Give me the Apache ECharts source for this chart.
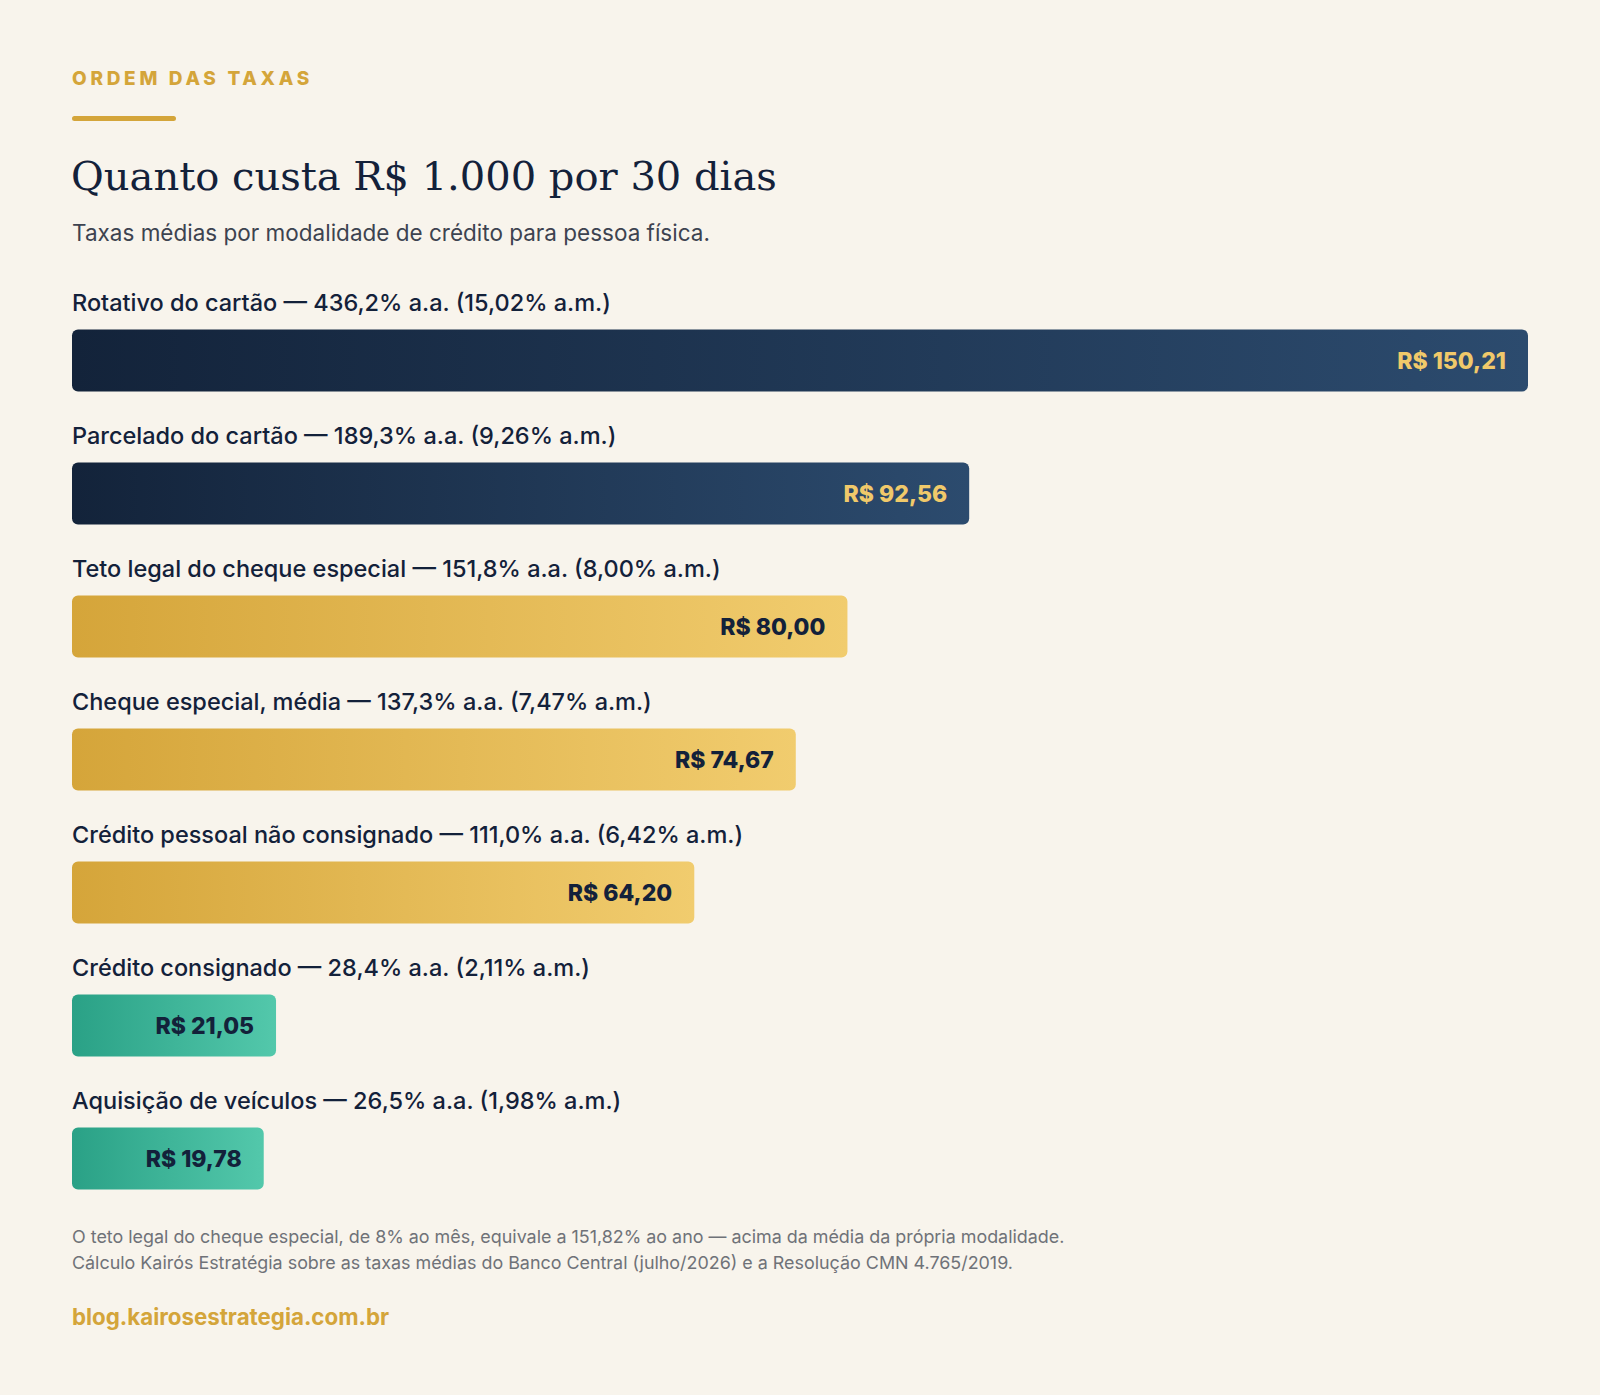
<!DOCTYPE html>
<html lang="pt-BR">

<head>
    <meta charset="UTF-8">
    <meta name="viewport" content="width=device-width, initial-scale=1.0">
    <title>Quanto custa R$ 1.000 por 30 dias</title>
    <script src="https://cdn.jsdelivr.net/npm/echarts@6/dist/echarts.min.js"></script>
</head>

<style>
    html,
    body {
        margin: 0;
        padding: 0;
        background: #f8f4ec;
    }

    #main {
        width: 1600px;
        height: 1395px;
    }
</style>

<body>
    <div id="main"></div>
</body>

</html>

<script>
    // modalidades (ordem de cima para baixo)
    let categories = [
        'Rotativo do cartão — 436,2% a.a. (15,02% a.m.)',
        'Parcelado do cartão — 189,3% a.a. (9,26% a.m.)',
        'Teto legal do cheque especial — 151,8% a.a. (8,00% a.m.)',
        'Cheque especial, média — 137,3% a.a. (7,47% a.m.)',
        'Crédito pessoal não consignado — 111,0% a.a. (6,42% a.m.)',
        'Crédito consignado — 28,4% a.a. (2,11% a.m.)',
        'Aquisição de veículos — 26,5% a.a. (1,98% a.m.)'
    ]
    // custo em R$ de 1.000 por 30 dias
    let values = [150.21, 92.56, 80.00, 74.67, 64.20, 21.05, 19.78]
    // faixa de cor de cada barra
    let groups = ['alto', 'alto', 'medio', 'medio', 'medio', 'baixo', 'baixo']

    let palette = {
        alto: { from: '#13233a', to: '#2c4b6e', text: '#f0c96a' },
        medio: { from: '#d5a53a', to: '#f1cc6e', text: '#13213a' },
        baixo: { from: '#2aa186', to: '#53c8ab', text: '#13213a' }
    }

    let fontSans = 'Inter, "Noto Sans", sans-serif'

    function fmt(v) {
        return 'R$ ' + v.toFixed(2).replace('.', ',')
    }

    var myChart = echarts.init(document.getElementById('main'), null, { renderer: 'svg' });

    let seriesData = values.map(function (v, i) {
        let p = palette[groups[i]]
        return {
            value: v,
            itemStyle: {
                color: new echarts.graphic.LinearGradient(0, 0, 1, 0, [
                    { offset: 0, color: p.from },
                    { offset: 1, color: p.to }
                ])
            },
            label: { color: p.text }
        }
    })

    option = {
        backgroundColor: '#f8f4ec',
        animation: false,
        title: [{
            text: 'ORDEM DAS TAXAS',
            left: 72,
            top: 69,
            padding: 0,
            textStyle: { color: '#d4a53a', fontSize: 19, fontWeight: 800, fontFamily: fontSans }
        }, {
            text: 'Quanto custa R$ 1.000 por 30 dias',
            left: 71,
            top: 156,
            padding: 0,
            textStyle: { color: '#13213a', fontSize: 40, fontWeight: 'normal', fontFamily: '"DejaVu Serif", serif' }
        }, {
            text: 'Taxas médias por modalidade de crédito para pessoa física.',
            left: 72,
            top: 221,
            padding: 0,
            textStyle: { color: '#3d4350', fontSize: 22.5, fontWeight: 'normal', fontFamily: fontSans }
        }, {
            text: 'O teto legal do cheque especial, de 8% ao mês, equivale a 151,82% ao ano — acima da média da própria modalidade.\nCálculo Kairós Estratégia sobre as taxas médias do Banco Central (julho/2026) e a Resolução CMN 4.765/2019.',
            left: 72,
            top: 1224,
            padding: 0,
            textStyle: { color: '#6f7278', fontSize: 17.9, lineHeight: 25.5, fontWeight: 'normal', fontFamily: fontSans }
        }, {
            text: 'blog.kairosestrategia.com.br',
            left: 72,
            top: 1305,
            padding: 0,
            textStyle: { color: '#d4a53a', fontSize: 22.3, fontWeight: 700, fontFamily: fontSans }
        }],
        graphic: [{
            type: 'rect',
            left: 72,
            top: 116,
            shape: { width: 104, height: 5, r: 2.5 },
            style: { fill: '#d4a53a' }
        }],
        grid: {
            left: 72,
            right: 72,
            top: 294,
            height: 931,
            containLabel: false
        },
        xAxis: {
            type: 'value',
            min: 0,
            max: 150.21,
            show: false
        },
        yAxis: {
            type: 'category',
            inverse: true,
            data: categories,
            axisLine: { show: false },
            axisTick: { show: false },
            splitLine: { show: false },
            axisLabel: {
                inside: true,
                interval: 0,
                margin: 0,
                // nome da modalidade acima da barra
                formatter: function (v) { return '{t|' + v + '}\n{gap|}' },
                rich: {
                    t: {
                        color: '#13213a',
                        fontSize: 23.5,
                        lineHeight: 24,
                        fontWeight: 500,
                        fontFamily: fontSans
                    },
                    gap: { height: 117, lineHeight: 117 }
                }
            },
            z: 5
        },
        series: [{
            type: 'bar',
            barWidth: 62,
            data: seriesData,
            itemStyle: { borderRadius: 6 },
            label: {
                show: true,
                position: 'insideRight',
                distance: 22,
                fontSize: 23,
                fontWeight: 800,
                fontFamily: fontSans,
                formatter: function (p) { return fmt(p.value) }
            }
        }]
    };

    myChart.setOption(option);

    // espaçamento entre letras do sobretítulo (svg)
    function spaceEyebrow() {
        let texts = document.querySelectorAll('#main svg text')
        texts.forEach(function (t) {
            if (t.textContent === 'ORDEM DAS TAXAS') {
                t.setAttribute('letter-spacing', '3.7')
            }
        })
    }
    myChart.on('finished', spaceEyebrow)
    spaceEyebrow()

    window.addEventListener("resize", function () {
        myChart.resize();
    });
</script>
